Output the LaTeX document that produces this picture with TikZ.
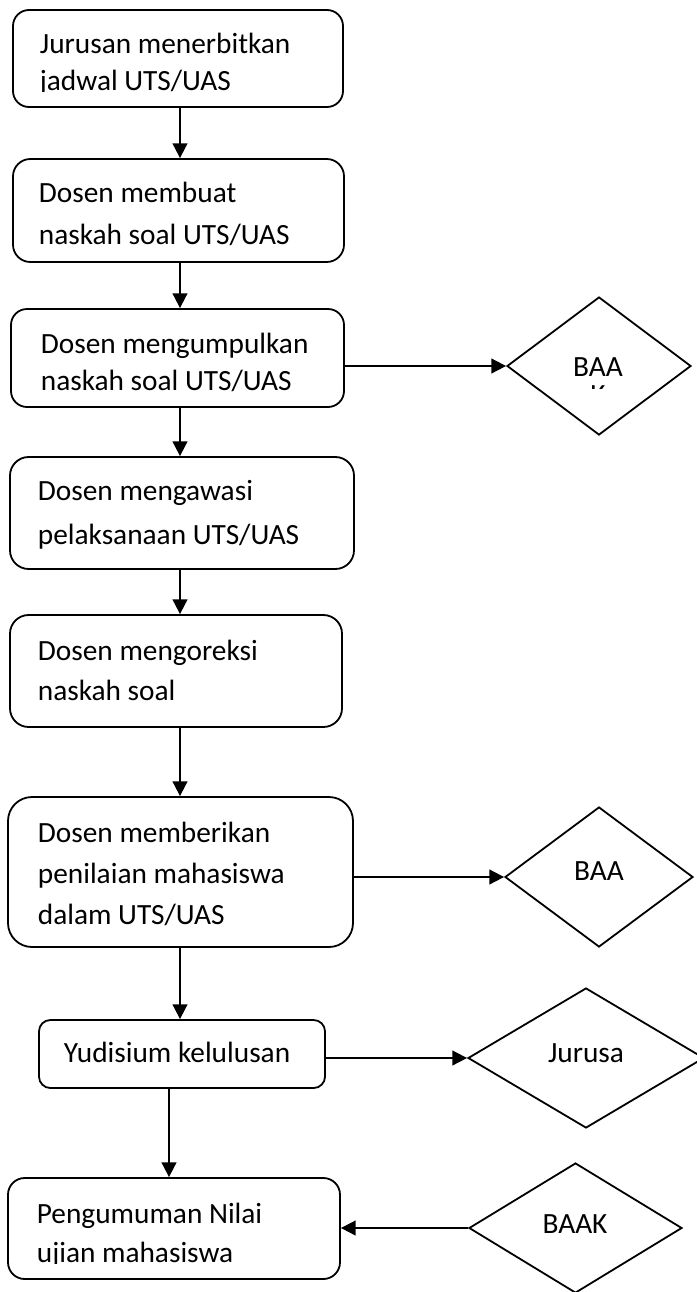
\documentclass[tikz,border=0pt]{standalone}
\usepackage{fontspec}
\setmainfont{Carlito}
\usetikzlibrary{arrows.meta, positioning, shapes.geometric}

\begin{document}
\begin{tikzpicture}[x=0.75pt,y=-0.75pt,line width=1.35pt]
    \tikzstyle{process}=[shape=rectangle,draw,inner sep=0pt]
    \tikzstyle{decision}=[shape=diamond,draw,inner sep=0pt]
    \tikzstyle{txt}=[anchor=base west,align=left,inner sep=0pt,font=\fontsize{22}{30}\selectfont]
    \tikzstyle{ctxt}=[anchor=base,align=center,inner sep=0pt,font=\fontsize{22}{30}\selectfont]
    \tikzstyle{flow}=[-{Triangle[length=11pt,width=11pt]}]

    \useasboundingbox (0,0) rectangle (696,1292);
    \coordinate (spine) at (180,0);
    \coordinate (spine2) at (169,0);

    % boxes
    \node[process, rounded corners=12pt, minimum width=247.5pt, minimum height=72.75pt] (B1) at (178,58.5) {};
    \node[process, rounded corners=13pt, minimum width=248.25pt, minimum height=77.25pt] (B2) at (178.5,210.5) {};
    \node[process, rounded corners=12pt, minimum width=249.75pt, minimum height=73.5pt] (B3) at (177.5,358) {};
    \node[process, rounded corners=14pt, minimum width=258pt, minimum height=84pt] (B4) at (182,513) {};
    \node[process, rounded corners=14pt, minimum width=249pt, minimum height=84pt] (B5) at (176,671) {};
    \node[process, rounded corners=18pt, minimum width=258.75pt, minimum height=112.5pt] (B6) at (180.5,872) {};
    \node[process, rounded corners=8.5pt, minimum width=214.5pt, minimum height=51pt] (B7) at (182,1054) {};
    \node[process, rounded corners=12.5pt, minimum width=249pt, minimum height=75.75pt] (B8) at (174,1228.5) {};

    % diamonds
    \node[decision, minimum width=138pt, minimum height=103.5pt] (D1) at (599,366) {};
    \node[decision, minimum width=141pt, minimum height=105pt] (D2) at (599,877) {};
    \node[decision, minimum width=177pt, minimum height=105pt] (D3) at (586,1058) {};
    \node[decision, minimum width=159.75pt, minimum height=97.5pt] (D4) at (575.5,1228) {};

    % texts (base = last line)
    \begin{scope}
      \clip (0,0) rectangle (696,91);
      \node[txt, font=\fontsize{22}{27.75}\selectfont] (T1) at (39,90) {Jurusan menerbitkan\\jadwal UTS/UAS};
    \end{scope}
    \node[txt, font=\fontsize{22}{31.5}\selectfont] (T2) at (38,244) {Dosen membuat\\naskah soal UTS/UAS};
    \begin{scope}
      \clip (0,300) rectangle (696,391);
      \node[txt, font=\fontsize{22}{27.75}\selectfont] (T3) at (40,390) {Dosen mengumpulkan\\naskah soal UTS/UAS};
    \end{scope}
    \node[txt, font=\fontsize{22}{33}\selectfont] (T4) at (37,544) {Dosen mengawasi\\pelaksanaan UTS/UAS};
    \node[txt] (T5) at (37,700) {Dosen mengoreksi\\naskah soal};
    \node[txt, font=\fontsize{22}{30.4}\selectfont] (T6) at (37,924) {Dosen memberikan\\penilaian mahasiswa\\dalam UTS/UAS};
    \node[txt] (T7) at (63,1062) {Yudisium kelulusan};
    \begin{scope}
      \clip (0,1170) rectangle (696,1263);
      \node[txt, font=\fontsize{22}{29.25}\selectfont] (T8) at (36,1262) {Pengumuman Nilai\\ujian mahasiswa};
    \end{scope}
    \begin{scope}
      \clip (500,300) rectangle (696,388);
      \node[ctxt, font=\fontsize{22}{21}\selectfont] (L1) at (598,404) {BAA\\K};
    \end{scope}
    \node[ctxt] (L2) at (599,880) {BAA};
    \node[ctxt] (L3) at (586,1062) {Jurusa};
    \node[ctxt] (L4) at (575,1233) {BAAK};

    % arrows
    \path[every edge/.style={draw, flow}]
    (B1.south -| spine) edge (B2.north -| spine)
    (B2.south -| spine) edge (B3.north -| spine)
    (B3.south -| spine) edge (B4.north -| spine)
    (B4.south -| spine) edge (B5.north -| spine)
    (B5.south -| spine) edge (B6.north -| spine)
    (B6.south -| spine) edge (B7.north -| spine)
    (B7.south -| spine2) edge (B8.north -| spine2)
    (B3.east |- D1.west) edge (D1.west)
    (B6.east |- D2.west) edge (D2.west)
    (B7.east |- D3.west) edge (D3.west)
    (D4.west) edge (B8.east |- D4.west)
    ;
\end{tikzpicture}
\end{document}
